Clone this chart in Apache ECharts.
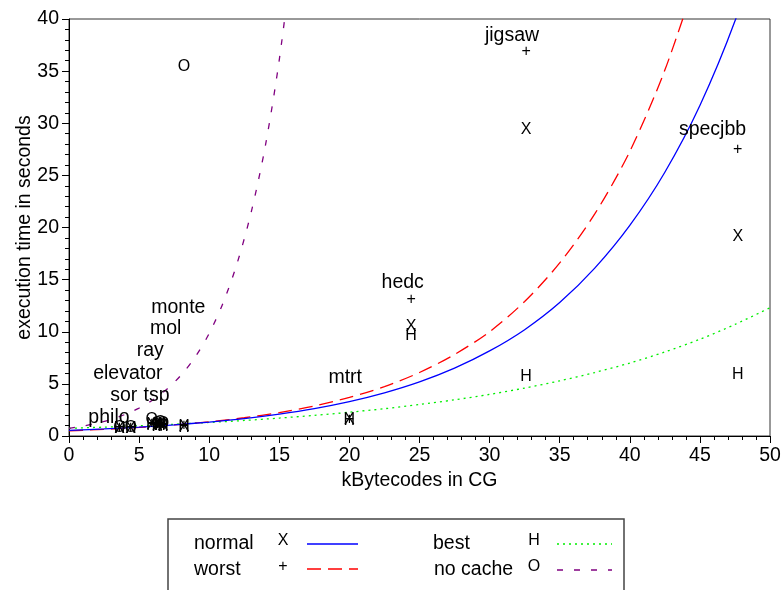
<!DOCTYPE html>
<html>
	<head>
		<meta charset="utf-8">
		<title>cg</title>
		<script src="https://cdn.jsdelivr.net/npm/echarts@6/dist/echarts.min.js"></script>
	</head>
	<body style="margin: 0;">
		<div id="box" style="width: 782px;height: 590px;"></div>
		<script>

			var mCharts = echarts.init(document.querySelector('#box'))
			var font = 'Liberation Sans, Arial, sans-serif'

			// benchmarks
			var names = ['philo', 'sor', 'elevator', 'tsp', 'ray', 'mol', 'monte', 'mtrt', 'hedc', 'jigsaw', 'specjbb']
			var kb = [3.6, 4.4, 5.9, 6.3, 6.5, 6.7, 8.2, 20.0, 24.4, 32.6, 47.7]
			var normalT = [0.75, 0.75, 1.1, 1.0, 1.1, 1.0, 0.9, 1.55, 10.5, 29.4, 19.1]
			var worstT = [0.8, 0.8, 1.2, 1.1, 1.2, 1.1, 1.0, 1.6, 13.1, 36.9, 27.5]
			var bestT = [0.7, 0.7, 1.0, 0.95, 1.0, 0.95, 0.85, 1.5, 9.6, 5.7, 5.85]
			var noCacheT = [0.85, 0.85, 1.6, 1.2, 1.3, 1.2, 35.4, null, null, null, null]

			// where the names are written
			var labelX = [2.85, 3.9, 4.2, 6.25, 5.8, 6.9, 7.8, 19.7, 23.8, 31.6, 45.9]
			var labelY = [1.8, 3.9, 6.0, 3.9, 8.2, 10.3, 12.3, 5.6, 14.7, 38.4, 29.4]

			// fitted curves
			var fitX = [0, 2.5, 5, 7.5, 10, 12.5, 15, 17.5, 20, 22.5, 25, 27.5, 30, 32.5, 35, 37.5, 40, 42.5, 45, 47.5, 50]
			var normalFit = [0.54, 0.68, 0.85, 1.07, 1.34, 1.67, 2.10, 2.63, 3.30, 4.14, 5.19, 6.51, 8.16, 10.2, 12.8, 16.1, 20.2, 25.3, 31.7, 39.8, 49.9]
			var worstFit = [0.50, 0.64, 0.82, 1.06, 1.36, 1.75, 2.24, 2.88, 3.70, 4.74, 6.09, 7.82, 10.0, 12.9, 16.6, 21.3, 27.3, 35.1, 45.0]
			var bestFit = [0.74, 0.85, 0.98, 1.13, 1.30, 1.49, 1.72, 1.98, 2.28, 2.62, 3.02, 3.47, 3.99, 4.60, 5.29, 6.09, 7.00, 8.06, 9.28, 10.7, 12.3]
			var noCacheX = [0, 1, 2, 3, 4, 5, 6, 7, 8, 9, 10, 11, 12, 13, 14, 15, 16]
			var noCacheFit = [0.73, 0.95, 1.23, 1.59, 2.07, 2.68, 3.48, 4.51, 5.85, 7.58, 9.84, 12.8, 16.6, 21.5, 27.8, 36.1, 46.8]

			function pairs(xs, ys) {
				var out = []
				for (var i = 0; i < ys.length; i++) {
					if (ys[i] != null) out.push([xs[i], ys[i]])
				}
				return out
			}

			// scatter with a letter as the marker
			function glyphSeries(ys, ch) {
				return {
					type: 'scatter',
					data: pairs(kb, ys),
					symbol: 'circle',
					symbolSize: 2,
					itemStyle: { color: 'rgba(0,0,0,0)', opacity: 1 },
					label: {
						show: true,
						position: 'inside',
						formatter: ch,
						color: '#000',
						opacity: 1,
						textBorderWidth: 0,
						fontFamily: font,
						fontSize: 16
					},
					z: 5
				}
			}

			function curve(xs, ys, color, type) {
				return {
					type: 'line',
					data: pairs(xs, ys),
					smooth: 0.3,
					symbol: 'none',
					clip: true,
					lineStyle: { color: color, width: 1.3, type: type },
					z: 3
				}
			}

			var labelData = []
			for (var i = 0; i < names.length; i++) {
				labelData.push({ value: [labelX[i], labelY[i]], name: names[i] })
			}

			var axisCommon = {
				type: 'value',
				interval: 5,
				axisLine: { show: true, lineStyle: { color: '#000', width: 1 } },
				axisTick: { show: true, length: 7, lineStyle: { color: '#000' } },
				minorTick: { show: true, splitNumber: 5, length: 4, lineStyle: { color: '#000' } },
				splitLine: { show: false },
				axisLabel: { color: '#000', fontFamily: font, fontSize: 19.5, margin: 10 },
				nameLocation: 'middle',
				nameMoveOverlap: false,
				nameTextStyle: { color: '#000', fontFamily: font, fontSize: 19.5 }
			}

			var legendFont = '19.5px ' + font
			var glyphFont = '16px ' + font

			var option = {
				animation: false,
				backgroundColor: '#fff',
				grid: {
					left: 69, right: 12, top: 19, bottom: 154,
					show: true, borderColor: '#333', borderWidth: 1,
					outerBoundsMode: 'none'
				},
				xAxis: echarts.util.merge({ min: 0, max: 50, name: 'kBytecodes in CG', nameGap: 35 }, axisCommon),
				yAxis: echarts.util.merge({ min: 0, max: 40, name: 'execution time in seconds', nameGap: 34 }, axisCommon),
				series: [
					curve(fitX, bestFit, '#00ee00', [2, 4]),
					curve(noCacheX, noCacheFit, '#800080', [6, 11]),
					curve(fitX, worstFit, '#ff0000', [14, 7]),
					curve(fitX, normalFit, '#0000ff', 'solid'),
					glyphSeries(normalT, 'X'),
					glyphSeries(worstT, '+'),
					glyphSeries(bestT, 'H'),
					glyphSeries(noCacheT, 'O'),
					{
						type: 'scatter',
						data: labelData,
						symbolSize: 2,
						itemStyle: { color: 'rgba(0,0,0,0)', opacity: 1 },
						label: {
							show: true,
							position: 'inside',
							formatter: '{b}',
							color: '#000',
							opacity: 1,
							textBorderWidth: 0,
							fontFamily: font,
							fontSize: 19.5
						},
						z: 6
					}
				],
				graphic: [
					{ type: 'rect', silent: true, shape: { x: 168, y: 519, width: 456, height: 90 }, style: { fill: 'none', stroke: '#444', lineWidth: 1.5 } },
					{ type: 'text', silent: true, style: { text: 'normal', x: 194, y: 544, font: legendFont, fill: '#000', verticalAlign: 'middle' } },
					{ type: 'text', silent: true, style: { text: 'worst', x: 194, y: 570, font: legendFont, fill: '#000', verticalAlign: 'middle' } },
					{ type: 'text', silent: true, style: { text: 'X', x: 283, y: 541, font: glyphFont, fill: '#000', align: 'center', verticalAlign: 'middle' } },
					{ type: 'text', silent: true, style: { text: '+', x: 283, y: 567, font: glyphFont, fill: '#000', align: 'center', verticalAlign: 'middle' } },
					{ type: 'line', silent: true, shape: { x1: 307, y1: 544, x2: 358, y2: 544 }, style: { stroke: '#0000ff', lineWidth: 1.3 } },
					{ type: 'line', silent: true, shape: { x1: 307, y1: 569, x2: 358, y2: 569 }, style: { stroke: '#ff0000', lineWidth: 1.3, lineDash: [14, 7] } },
					{ type: 'text', silent: true, style: { text: 'best', x: 433, y: 544, font: legendFont, fill: '#000', verticalAlign: 'middle' } },
					{ type: 'text', silent: true, style: { text: 'no cache', x: 434, y: 570, font: legendFont, fill: '#000', verticalAlign: 'middle' } },
					{ type: 'text', silent: true, style: { text: 'H', x: 534, y: 541, font: glyphFont, fill: '#000', align: 'center', verticalAlign: 'middle' } },
					{ type: 'text', silent: true, style: { text: 'O', x: 534, y: 567, font: glyphFont, fill: '#000', align: 'center', verticalAlign: 'middle' } },
					{ type: 'line', silent: true, shape: { x1: 557, y1: 544, x2: 612, y2: 544 }, style: { stroke: '#00ee00', lineWidth: 1.3, lineDash: [2, 4] } },
					{ type: 'line', silent: true, shape: { x1: 557, y1: 570, x2: 612, y2: 570 }, style: { stroke: '#800080', lineWidth: 1.3, lineDash: [6, 11] } }
				]
			}
			mCharts.setOption(option)

		</script>
	</body>
</html>
